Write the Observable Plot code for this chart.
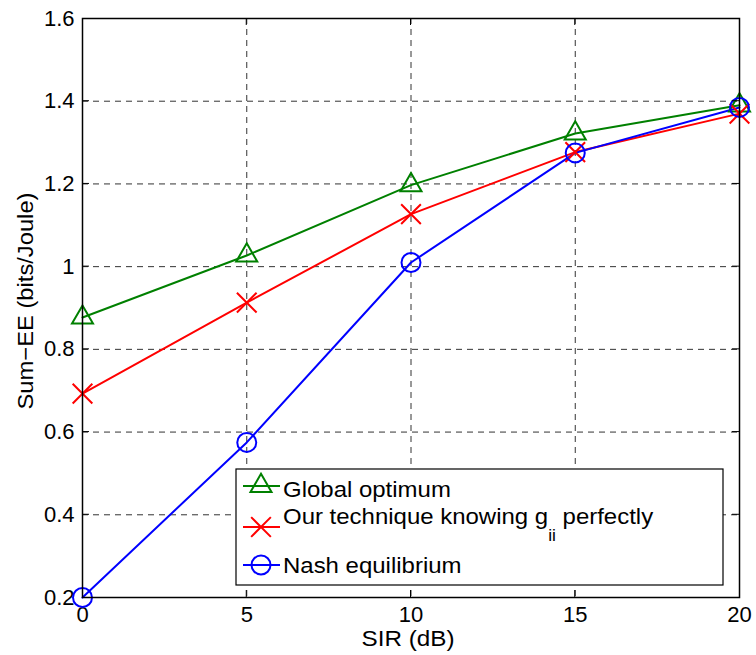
<!DOCTYPE html>
<html><head><meta charset="utf-8">
<script src="https://cdn.jsdelivr.net/npm/d3@7"></script>
<script src="https://cdn.jsdelivr.net/npm/@observablehq/plot@0.6"></script>
<style>body{margin:0;background:#fff}</style>
</head><body><div id="chart"></div>
<script>
const sir = [0, 5, 10, 15, 20];
const globalOpt = [0.877, 1.027, 1.197, 1.322, 1.39];
const ourTech = [0.693, 0.913, 1.127, 1.277, 1.37];
const nash = [0.2, 0.575, 1.01, 1.275, 1.385];
const xTicks = [0, 5, 10, 15, 20];
const yTicks = [0.2, 0.4, 0.6, 0.8, 1, 1.2, 1.4, 1.6];
const seriesNames = ["Global optimum", "Our technique knowing g_ii perfectly", "Nash equilibrium"];
const colors = ["#008000", "#ff0000", "#0000ff"];
const symbols = ["triangle", "times", "circle"];
const radii = [7.8, 9, 9.5];

const rows = [globalOpt, ourTech, nash].flatMap((vals, i) =>
  vals.map((v, j) => ({x: sir[j], y: v, s: i})));

const font = "'Liberation Sans', Arial, Helvetica, sans-serif";
const plot = Plot.plot({
  width: 756, height: 655,
  marginLeft: 82, marginRight: 17, marginTop: 18, marginBottom: 58,
  style: {fontFamily: font, fontSize: "22px", background: "#fff", color: "#000"},
  x: {domain: [0, 20]},
  y: {domain: [0.2, 1.6]},
  marks: [
    Plot.gridX(xTicks.slice(1, -1), {stroke: "#333", strokeOpacity: 1, strokeDasharray: "6,5", strokeWidth: 1}),
    Plot.gridY(yTicks.slice(1, -1), {stroke: "#333", strokeOpacity: 1, strokeDasharray: "6,5", strokeWidth: 1}),
    Plot.axisX(xTicks, {tickSize: 0, tickPadding: 9, label: null, fontSize: 22}),
    Plot.axisY(yTicks, {tickSize: 0, tickPadding: 8, label: null, fontSize: 22, tickFormat: d => String(d)}),
    ...[0, 1, 2].map(i => Plot.line(rows.filter(d => d.s === i), {x: "x", y: "y", stroke: colors[i], strokeWidth: 2})),
    ...[0, 1, 2].map(i => Plot.dot(rows.filter(d => d.s === i), {x: "x", y: "y", stroke: colors[i], fill: "none", strokeWidth: 2, symbol: symbols[i], r: radii[i]})),
    Plot.frame({stroke: "#000", strokeWidth: 1.5})
  ]
});
document.getElementById("chart").appendChild(plot);

const svg = d3.select(plot);
const xs = plot.scale("x"), ys = plot.scale("y");
// inward ticks
const tk = svg.append("g").attr("stroke", "#000").attr("stroke-width", 1);
xTicks.slice(1, -1).forEach(t => {
  const px = xs.apply(t);
  tk.append("line").attr("x1", px).attr("x2", px).attr("y1", ys.apply(0.2)).attr("y2", ys.apply(0.2) - 7);
  tk.append("line").attr("x1", px).attr("x2", px).attr("y1", ys.apply(1.6)).attr("y2", ys.apply(1.6) + 7);
});
yTicks.slice(1, -1).forEach(t => {
  const py = ys.apply(t);
  tk.append("line").attr("y1", py).attr("y2", py).attr("x1", xs.apply(0)).attr("x2", xs.apply(0) + 7);
  tk.append("line").attr("y1", py).attr("y2", py).attr("x1", xs.apply(20)).attr("x2", xs.apply(20) - 7);
});

// axis labels
svg.append("text").attr("x", 408).attr("y", 646).attr("text-anchor", "middle")
  .attr("textLength", 93).attr("lengthAdjust", "spacingAndGlyphs")
  .style("font-family", font).style("font-size", "22px").attr("fill", "#000").text("SIR (dB)");
svg.append("text").attr("transform", "translate(33,301) rotate(-90)").attr("text-anchor", "middle")
  .attr("textLength", 217).attr("lengthAdjust", "spacingAndGlyphs")
  .style("font-family", font).style("font-size", "22px").attr("fill", "#000").text("Sum\u2212EE (bits/Joule)");

// legend
const lg = svg.append("g");
lg.append("rect").attr("x", 236).attr("y", 469).attr("width", 487).attr("height", 116)
  .attr("fill", "#fff").attr("stroke", "#000").attr("stroke-width", 1.2);
const ly = [486, 527, 565];
const ty = [497, 524, 573];
const symMap = {triangle: d3.symbolTriangle, times: d3.symbolTimes, circle: d3.symbolCircle};
[0, 1, 2].forEach(i => {
  lg.append("line").attr("x1", 243).attr("x2", 280).attr("y1", ly[i]).attr("y2", ly[i])
    .attr("stroke", colors[i]).attr("stroke-width", 2);
  const r = radii[i];
  lg.append("path").attr("d", d3.symbol(symMap[symbols[i]], Math.PI * r * r)())
    .attr("transform", `translate(261,${ly[i]})`).attr("fill", "none")
    .attr("stroke", colors[i]).attr("stroke-width", 2);
  const t = lg.append("text").attr("transform", `translate(283,${ty[i]}) scale(1.09,1)`).attr("text-anchor", "start")
    .style("font-family", font).style("font-size", "22px").attr("fill", "#000");
  if (i === 1) {
    t.append("tspan").text("Our technique knowing g");
    t.append("tspan").attr("dy", 17).style("font-size", "16px").text("ii");
    t.append("tspan").attr("dy", -17).text(" perfectly");
  } else {
    t.text(seriesNames[i]);
  }
});
</script></body></html>
